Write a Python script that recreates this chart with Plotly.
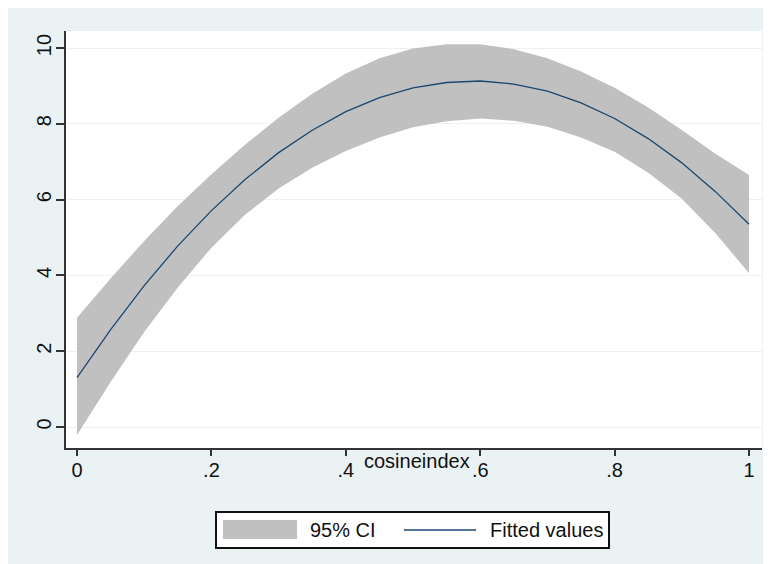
import plotly.graph_objects as go

# ---- data ----
cosineindex = [0.00, 0.05, 0.10, 0.15, 0.20, 0.25, 0.30, 0.35, 0.40, 0.45, 0.50,
               0.55, 0.60, 0.65, 0.70, 0.75, 0.80, 0.85, 0.90, 0.95, 1.00]
fitted = [1.30, 2.57, 3.73, 4.78, 5.71, 6.53, 7.24, 7.83, 8.32, 8.69, 8.95,
          9.09, 9.13, 9.05, 8.86, 8.55, 8.14, 7.61, 6.97, 6.21, 5.35]
ci_upper = [2.88, 3.92, 4.91, 5.83, 6.67, 7.45, 8.16, 8.79, 9.33, 9.73, 9.99,
            10.10, 10.10, 9.97, 9.73, 9.38, 8.95, 8.43, 7.84, 7.21, 6.65]
ci_lower = [-0.21, 1.19, 2.51, 3.68, 4.73, 5.60, 6.29, 6.84, 7.28, 7.64, 7.91,
            8.07, 8.14, 8.08, 7.92, 7.64, 7.26, 6.71, 6.02, 5.11, 4.06]

x_tickvals = [0, 0.2, 0.4, 0.6, 0.8, 1]
x_ticktext = ["0", ".2", ".4", ".6", ".8", "1"]
y_tickvals = [0, 2, 4, 6, 8, 10]
y_ticktext = ["0", "2", "4", "6", "8", "10"]
x_title = "cosineindex"
legend_labels = ["95% CI", "Fitted values"]

# ---- styles ----
BG = "#eaf2f3"
CI_COLOR = "#c0c0c0"
LINE_COLOR = "#1a476f"
TEXT = "#111111"
FONT = "Liberation Sans, Arial, sans-serif"
FS = 20
W, H = 771, 564
OFF = 8  # page body margin
ML, MT = 58, 23
PW, PH = 696, 417
MR = W - ML - PW
MB = H - MT - PH


def px(xp):  # page x -> paper
    return (xp - OFF - ML) / PW


def py(yp):  # page y -> paper
    return (H - MB - (yp - OFF)) / PH


fig = go.Figure()
fig.add_trace(go.Scatter(x=cosineindex, y=ci_lower, mode="lines",
                         line=dict(width=0, color=CI_COLOR), hoverinfo="skip",
                         showlegend=False))
fig.add_trace(go.Scatter(x=cosineindex, y=ci_upper, mode="lines", fill="tonexty",
                         fillcolor=CI_COLOR, line=dict(width=0, color=CI_COLOR),
                         name=legend_labels[0], showlegend=False))
fig.add_trace(go.Scatter(x=cosineindex, y=fitted, mode="lines",
                         line=dict(width=1.3, color=LINE_COLOR),
                         name=legend_labels[1], showlegend=False))

shapes = [
    # legend box
    dict(type="rect", xref="paper", yref="paper", x0=px(216), x1=px(609), y0=py(548), y1=py(512),
         fillcolor="white", line=dict(color=TEXT, width=2)),
    dict(type="rect", xref="paper", yref="paper", x0=px(223), x1=px(297), y0=py(539), y1=py(520),
         fillcolor=CI_COLOR, line=dict(width=0)),
    dict(type="line", xref="paper", yref="paper", x0=px(404), x1=px(476), y0=py(530), y1=py(530),
         line=dict(color=LINE_COLOR, width=1.5)),
]

annotations = [
    dict(text=x_title, xref="paper", yref="paper", x=px(417), y=py(461), xanchor="center",
         yanchor="middle", showarrow=False, font=dict(size=FS, color=TEXT, family=FONT)),
    dict(text=legend_labels[0], xref="paper", yref="paper", x=px(308), y=py(530), xanchor="left",
         yanchor="middle", showarrow=False, font=dict(size=FS, color=TEXT, family=FONT)),
    dict(text=legend_labels[1], xref="paper", yref="paper", x=px(488), y=py(530), xanchor="left",
         yanchor="middle", showarrow=False, font=dict(size=FS, color=TEXT, family=FONT)),
]

fig.update_layout(
    width=W, height=H,
    margin=dict(l=ML, r=MR, t=MT, b=MB, pad=0),
    paper_bgcolor=BG, plot_bgcolor="white",
    font=dict(family=FONT, size=FS, color=TEXT),
    showlegend=False,
    shapes=shapes, annotations=annotations,
    xaxis=dict(range=[-0.0164, 1.0193], tickvals=x_tickvals, ticktext=x_ticktext,
               showgrid=False, zeroline=False, showline=True, linecolor="#333333",
               linewidth=1.5, ticks="outside", ticklen=6, tickwidth=1.5, tickcolor="#333333",
               ticklabelstandoff=-3, tickfont=dict(size=FS)),
    yaxis=dict(range=[-0.554, 10.449], tickvals=y_tickvals, ticktext=y_ticktext,
               showgrid=True, gridcolor=BG, gridwidth=1, zeroline=False, showline=True,
               linecolor="#333333", linewidth=1.5, ticks="outside", ticklen=8, tickwidth=1.5,
               tickcolor="#333333", tickangle=-90, ticklabelstandoff=-3,
               tickfont=dict(size=FS)),
)

fig.write_html("out.html")
